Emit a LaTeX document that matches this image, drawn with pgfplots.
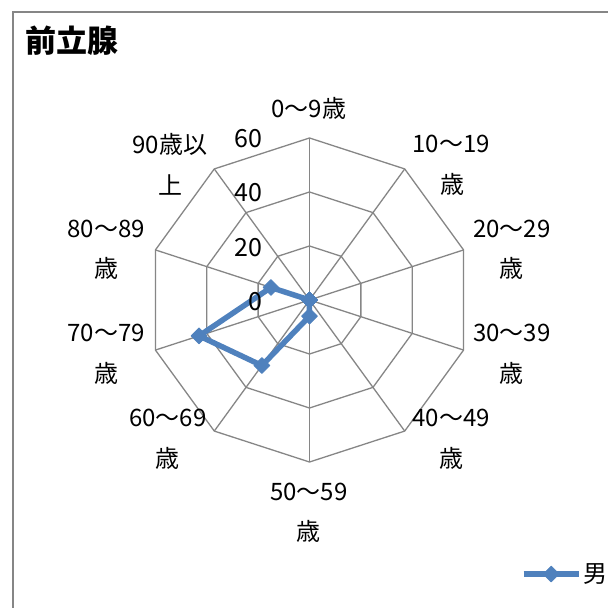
\documentclass[border=0pt]{standalone}
\usepackage{fontspec}
\setmainfont{Noto Sans CJK JP}
\usepackage{pgfplots}
\pgfplotsset{compat=1.18}
\usepgfplotslibrary{polar}
\definecolor{ser}{RGB}{79,129,189}
\definecolor{gridc}{RGB}{134,134,134}
\newcommand{\cat}{\fontsize{24bp}{28bp}\selectfont}
\newcommand{\tck}{\fontsize{25bp}{28bp}\selectfont}
\begin{document}
\begin{tikzpicture}
\begin{axis}[name=ax, scale only axis, width=608bp, height=608bp,
  xmin=-114.63, xmax=110.56, ymin=-114.07, ymax=111.11,
  hide axis, clip=false,
  legend style={at={(axis cs:78.33,-101.48)}, anchor=west, draw=none, fill=none,
    inner sep=0pt, outer sep=0pt, nodes={inner sep=0pt, font=\cat},
    /tikz/every odd column/.append style={column sep=2bp}},
  legend image code/.code={\draw[mark repeat=2,mark phase=2,#1] plot coordinates {(0bp,0bp) (27.5bp,0bp) (55bp,0bp)};},
  gridline/.style={gridc, line width=1.3bp, no markers, data cs=polar, forget plot},
]
\fill[white] (axis cs:-114.63,-114.07) rectangle (axis cs:110.56,111.11);
\draw[gridc, line width=1.3bp] (axis cs:-109.81,-114.07) -- (axis cs:-109.81,106.67) -- (axis cs:110.56,106.67);
% rings
\addplot[gridline] coordinates {(90,20)(54,20)(18,20)(-18,20)(-54,20)(-90,20)(-126,20)(-162,20)(-198,20)(-234,20)(-270,20)};
\addplot[gridline] coordinates {(90,40)(54,40)(18,40)(-18,40)(-54,40)(-90,40)(-126,40)(-162,40)(-198,40)(-234,40)(-270,40)};
\addplot[gridline] coordinates {(90,60)(54,60)(18,60)(-18,60)(-54,60)(-90,60)(-126,60)(-162,60)(-198,60)(-234,60)(-270,60)};
% spokes
\pgfplotsinvokeforeach{90,54,18,-18,-54,-90,-126,-162,-198,-234}{
  \addplot[gridline] coordinates {(#1,0) (#1,60)};
}
% series 男
\addplot[ser, line width=5.5bp, line join=round, data cs=polar,
  mark=square*, mark size=5.6bp, mark options={rotate=45, solid, fill=ser, line width=0.8bp}]
  coordinates {(90,0) (54,0) (18,0) (-18,0) (-54,0) (-90,6) (-126,30) (-162,43) (-198,15) (-234,0) (-270,0)};
\legend{男}
% title
\node[anchor=west, font=\fontsize{31bp}{34bp}\selectfont\bfseries] at (axis cs:-106.48,95.93) {前立腺};
% tick labels
\node[anchor=east, font=\tck] at (axis cs:-16.11,59.63) {60};
\node[anchor=east, font=\tck] at (axis cs:-16.11,39.63) {40};
\node[anchor=east, font=\tck] at (axis cs:-16.11,19.26) {20};
\node[anchor=east, font=\tck] at (axis cs:-16.11,-0.74) {0};
% category labels
\node[font=\cat] at (axis cs:-0.19,71.11) {0～9歳};
\node[font=\cat] at (axis cs:52.41,57.78) {10～19};
\node[font=\cat] at (axis cs:52.78,42.96) {歳};
\node[font=\cat] at (axis cs:75.0,26.30) {20～29};
\node[font=\cat] at (axis cs:75.0,11.85) {歳};
\node[font=\cat] at (axis cs:75.0,-12.22) {30～39};
\node[font=\cat] at (axis cs:75.0,-27.04) {歳};
\node[font=\cat] at (axis cs:52.41,-43.70) {40～49};
\node[font=\cat] at (axis cs:52.41,-58.52) {歳};
\node[font=\cat] at (axis cs:-0.19,-71.11) {50～59};
\node[font=\cat] at (axis cs:-0.19,-85.56) {歳};
\node[font=\cat] at (axis cs:-52.41,-43.70) {60～69};
\node[font=\cat] at (axis cs:-52.41,-58.52) {歳};
\node[font=\cat] at (axis cs:-75.37,-12.22) {70～79};
\node[font=\cat] at (axis cs:-75.37,-27.04) {歳};
\node[font=\cat] at (axis cs:-75.37,26.30) {80～89};
\node[font=\cat] at (axis cs:-75.37,11.85) {歳};
\node[font=\cat] at (axis cs:-51.67,57.78) {90歳以};
\node[font=\cat] at (axis cs:-51.30,42.59) {上};
\end{axis}
\pgfresetboundingbox
\path (ax.south west) rectangle (ax.north east);
\end{tikzpicture}
\end{document}
